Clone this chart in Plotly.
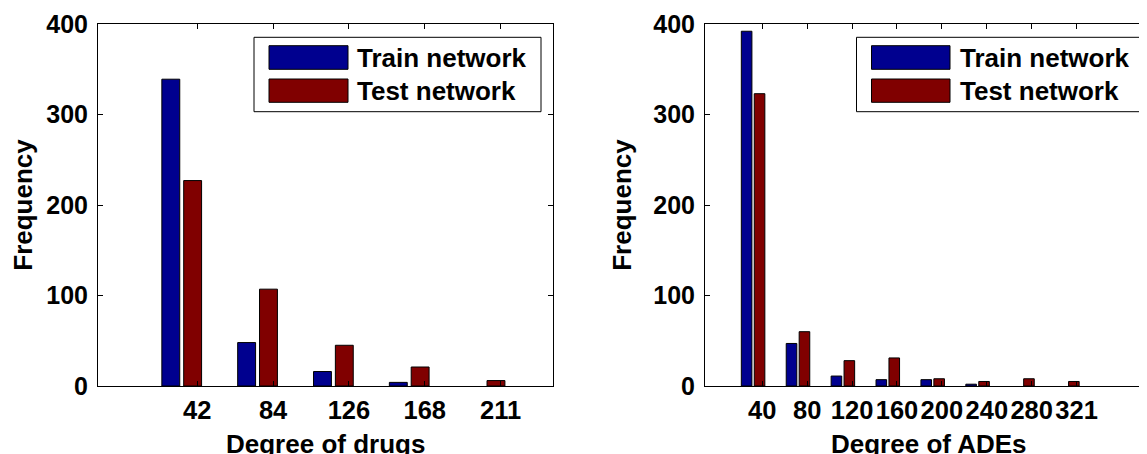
import plotly.graph_objects as go

# ---- data ----
drug_ticks = ["42", "84", "126", "168", "211"]
drug_train = [339, 48, 16, 4, 0]
drug_test = [227, 107, 45, 21, 6]

ade_ticks = ["40", "80", "120", "160", "200", "240", "280", "321"]
ade_train = [392, 47, 11, 7, 7, 2, 0, 0]
ade_test = [323, 60, 28, 31, 8, 5, 8, 5]

series_names = ["Train network", "Test network"]
colors = ["#00008F", "#800000"]

# the page places the figure 8px from the window's top-left corner
OFF = 8
W, H = 1147 - OFF, 454 - OFF
# plot-area edges in window pixels
L, R, T, B = 98, 1147, 24, 386
FONT = "Liberation Sans"


def px_x(p):
    return (p - L) / (R - L)


def px_y(p):
    return (B - p) / (B - T)


BW = 0.236   # bar width in group units
GAP = 0.026  # half gap between the two bars
TICK_SHIFT = 0.205

fig = go.Figure()


def add_panel(ticks, train, test, xa, ya):
    pos = list(range(1, len(ticks) + 1))
    for vals, col, name, off in [(train, colors[0], series_names[0], -BW - GAP),
                                 (test, colors[1], series_names[1], GAP)]:
        fig.add_trace(go.Bar(x=pos, y=vals, width=BW, offset=off,
                             marker=dict(color=col,
                                         line=dict(color="#000000",
                                                   width=[1 if v > 0 else 0 for v in vals])),
                             name=name, showlegend=False, xaxis=xa, yaxis=ya))
    return [p + TICK_SHIFT for p in pos]


tv1 = add_panel(drug_ticks, drug_train, drug_test, "x", "y")
tv2 = add_panel(ade_ticks, ade_train, ade_test, "x2", "y2")

axis_common = dict(
    showgrid=False, zeroline=False, showline=True, linecolor="#000000", linewidth=1,
    ticks="inside", ticklen=5, tickwidth=1, tickcolor="#000000", automargin=False,
)
xtick_font = dict(family=FONT, size=25.5, color="#000000", weight="bold")
ytick_font = dict(family=FONT, size=25, color="#000000", weight="bold")
title_font = dict(family=FONT, size=26, color="#000000", weight="bold")

fig.update_layout(
    width=W, height=H,
    margin=dict(l=L - OFF, r=1147 - R, t=T - OFF, b=454 - B, pad=0),
    paper_bgcolor="white", plot_bgcolor="white",
    barmode="overlay",
    font=dict(family=FONT, color="#000000", weight="bold"),
    xaxis=dict(domain=[0, px_x(553)], range=[-0.104, 5.896], tickvals=tv1, ticktext=drug_ticks,
               mirror="ticks", anchor="y", ticklabelstandoff=1, tickfont=xtick_font,
               **axis_common),
    yaxis=dict(domain=[0, 1], range=[0, 400], tickvals=[0, 100, 200, 300, 400],
               mirror="ticks", anchor="x", ticklabelstandoff=4, tickfont=ytick_font,
               title=dict(text="Frequency", font=title_font, standoff=14),
               **axis_common),
    xaxis2=dict(domain=[px_x(705), 1], range=[-0.071, 9.773], tickvals=tv2, ticktext=ade_ticks,
                mirror="ticks", anchor="y2", ticklabelstandoff=1, tickfont=xtick_font,
                **axis_common),
    yaxis2=dict(domain=[0, 1], range=[0, 400], tickvals=[0, 100, 200, 300, 400],
                mirror=False, anchor="x2", ticklabelstandoff=4, tickfont=ytick_font,
                title=dict(text="Frequency", font=title_font, standoff=14),
                **axis_common),
)

shapes = []
annotations = []

# ---- x-axis titles ----
for text, cx in [("Degree of drugs", 325.5), ("Degree of ADEs", 929)]:
    annotations.append(dict(xref="paper", yref="paper", x=px_x(cx), y=px_y(427),
                            xanchor="center", yanchor="top", showarrow=False, text=text,
                            font=title_font))

# ---- custom legends (MATLAB-style large swatches) ----
for box_l, box_r, sw_l, sw_r, txt_x in [(254, 541, 269, 348, 355), (856.5, 1139.8, 871.5, 950, 958)]:
    shapes.append(dict(type="rect", xref="paper", yref="paper",
                       x0=px_x(box_l), x1=px_x(box_r), y0=px_y(111.7), y1=px_y(37.3),
                       line=dict(color="#000000", width=1), fillcolor="white", layer="above"))
    for (y0, y1), col, name in zip([(45.7, 69.3), (79, 102.3)], colors, series_names):
        shapes.append(dict(type="rect", xref="paper", yref="paper",
                           x0=px_x(sw_l), x1=px_x(sw_r), y0=px_y(y1), y1=px_y(y0),
                           line=dict(color="#000000", width=1), fillcolor=col, layer="above"))
        annotations.append(dict(xref="paper", yref="paper", x=px_x(txt_x), y=px_y((y0 + y1) / 2),
                                xanchor="left", yanchor="middle", showarrow=False, text=name,
                                font=title_font))

fig.update_layout(shapes=shapes, annotations=annotations)

fig.write_html("out.html")
